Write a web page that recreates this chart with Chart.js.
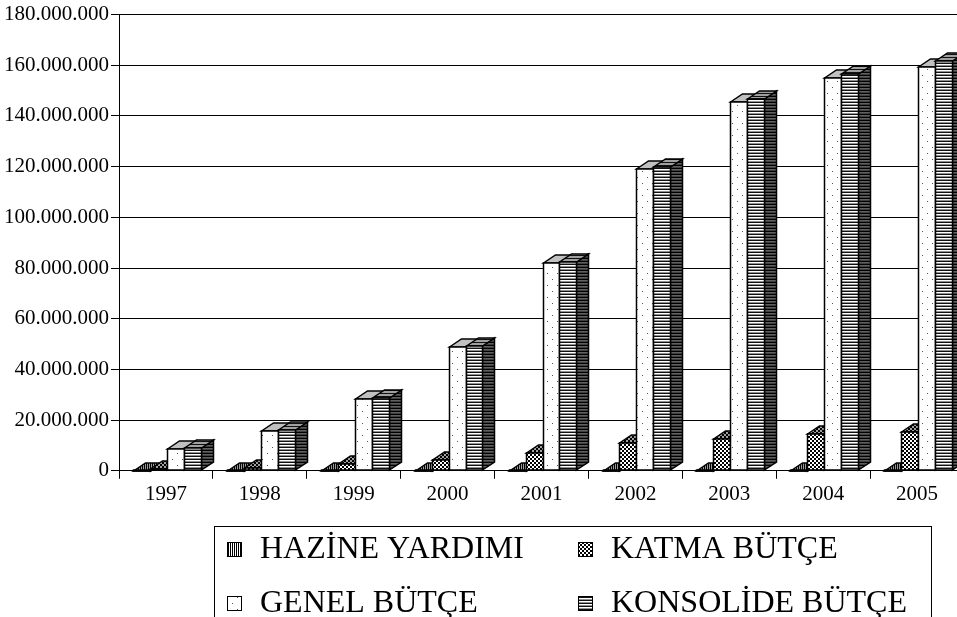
<!DOCTYPE html>
<html>
<head>
<meta charset="utf-8">
<script src="https://cdn.jsdelivr.net/npm/chart.js@4.4.1/dist/chart.umd.min.js"></script>
<style>
  html,body{margin:0;padding:0;background:#fff;overflow:hidden;}
  #wrap{position:relative;width:964px;height:640px;}
</style>
</head>
<body>
<div id="wrap"><canvas id="c" width="964" height="640"></canvas></div>
<script>
// yıllar ve bütçe serileri (TL)
const YEARS=['1997','1998','1999','2000','2001','2002','2003','2004','2005'];
const HAZINE=[100000,100000,100000,100000,100000,100000,100000,100000,100000];
const KATMA=[700000,1200000,2800000,4300000,7200000,10900000,12700000,14500000,15500000];
const GENEL=[8700000,15800000,28500000,49000000,82000000,119000000,145400000,155000000,159500000];
const KONSOLIDE=[8800000,16000000,28700000,49300000,82500000,120000000,146800000,156600000,161800000];
const LABELS=['HAZİNE YARDIMI','KATMA BÜTÇE','GENEL BÜTÇE','KONSOLİDE BÜTÇE'];
const Y_MAX=180000000, Y_STEP=20000000;

const FONT="'Liberation Serif','Times New Roman',serif";
const DX=12, DY=8;

function tile(w,h,fn){
  const c=document.createElement('canvas'); c.width=w; c.height=h;
  const g=c.getContext('2d'); fn(g);
  return document.getElementById('c').getContext('2d').createPattern(c,'repeat');
}
const stripesV=(a,b)=>tile(2,1,g=>{g.fillStyle=a;g.fillRect(0,0,1,1);g.fillStyle=b;g.fillRect(1,0,1,1);});
const stripesH=(cols)=>tile(1,cols.length,g=>{cols.forEach((c,i)=>{g.fillStyle=c;g.fillRect(0,i,1,1);});});
const checker=(a,b)=>tile(4,4,g=>{g.fillStyle=b;g.fillRect(0,0,4,4);g.fillStyle=a;g.fillRect(0,0,2,2);g.fillRect(2,2,2,2);});
const dots=(bg,dot)=>tile(10,12,g=>{g.fillStyle=bg;g.fillRect(0,0,10,12);g.fillStyle=dot;g.fillRect(2,3,1,1);g.fillRect(7,9,1,1);});

// her seri için ön / üst / yan yüz dolguları
const FACES=[
  {front:stripesV('#000','#fff'),top:stripesV('#000','#9a9a9a'),side:stripesV('#000','#555')},
  {front:checker('#000','#fff'),top:checker('#000','#a0a0a0'),side:checker('#000','#606060')},
  {front:dots('#fff','#555'),top:'#c0c0c0',side:'#808080'},
  {front:stripesH(['#111','#fff','#909090']),top:stripesH(['#111','#a0a0a0','#a0a0a0']),side:stripesH(['#000','#606060','#404040'])}
];

const fmt=v=>String(v).replace(/\B(?=(\d{3})+(?!\d))/g,'.');

function poly(ctx,pts,fill){
  ctx.beginPath();
  ctx.moveTo(pts[0][0],pts[0][1]);
  for(let i=1;i<pts.length;i++) ctx.lineTo(pts[i][0],pts[i][1]);
  ctx.closePath();
  ctx.fillStyle=fill; ctx.fill(); ctx.stroke();
}

const bars3d={
  id:'bars3d',
  afterDatasetsDraw(chart){
    const ctx=chart.ctx;
    ctx.save();
    ctx.strokeStyle='#000'; ctx.lineWidth=1.5; ctx.lineJoin='miter';
    const n=chart.data.labels.length;
    for(let j=0;j<n;j++){
      chart.data.datasets.forEach((ds,i)=>{
        const el=chart.getDatasetMeta(i).data[j];
        const p=el.getProps(['x','y','base','width'],true);
        const l=Math.round(p.x-p.width/2)+1.5, r=Math.round(p.x+p.width/2)+1.5;
        const t=Math.round(p.y), b=Math.round(p.base);
        const f=FACES[i];
        poly(ctx,[[r,b],[r+DX,b-DY],[r+DX,t-DY],[r,t]],f.side);
        poly(ctx,[[l,t],[l+DX,t-DY],[r+DX,t-DY],[r,t]],f.top);
        poly(ctx,[[l,t],[r,t],[r,b],[l,b]],f.front);
      });
    }
    ctx.restore();
  }
};

const boxLegend={
  id:'boxLegend',
  afterDraw(chart){
    const ctx=chart.ctx;
    ctx.save();
    ctx.strokeStyle='#000'; ctx.lineWidth=1;
    ctx.strokeRect(214.5,526.5,717,140);
    const cols=[227,578], rows=[549,603];
    ctx.font='32px '+FONT; ctx.textBaseline='middle'; ctx.textAlign='left';
    LABELS.forEach((lab,i)=>{
      const x=cols[i%2], y=rows[Math.floor(i/2)];
      ctx.fillStyle=FACES[i].front;
      ctx.fillRect(x,y-7,15,15);
      ctx.strokeRect(x+0.5,y-6.5,14,14);
      ctx.fillStyle='#000';
      ctx.fillText(lab,x+33,y+1);
    });
    ctx.restore();
  }
};

const series=[HAZINE,KATMA,GENEL,KONSOLIDE];
new Chart(document.getElementById('c'),{
  type:'bar',
  data:{
    labels:YEARS,
    datasets:series.map((d,i)=>({label:LABELS[i],data:d,backgroundColor:'rgba(0,0,0,0)',borderWidth:0}))
  },
  options:{
    responsive:false,animation:false,
    categoryPercentage:0.72,barPercentage:1.0,
    layout:{padding:{left:2,right:0,top:14,bottom:130}},
    plugins:{legend:{display:false},tooltip:{enabled:false}},
    scales:{
      x:{
        grid:{drawOnChartArea:false,drawTicks:true,tickLength:8,color:'#000',offset:true},
        border:{color:'#000',width:1},
        ticks:{color:'#000',font:{family:FONT,size:21},padding:3}
      },
      y:{
        min:0,max:Y_MAX,
        grid:{color:'#000',lineWidth:1,tickLength:8},
        border:{color:'#000',width:1},
        ticks:{stepSize:Y_STEP,color:'#000',font:{family:FONT,size:21},padding:2,callback:v=>fmt(v)}
      }
    }
  },
  plugins:[bars3d,boxLegend]
});
</script>
</body>
</html>
